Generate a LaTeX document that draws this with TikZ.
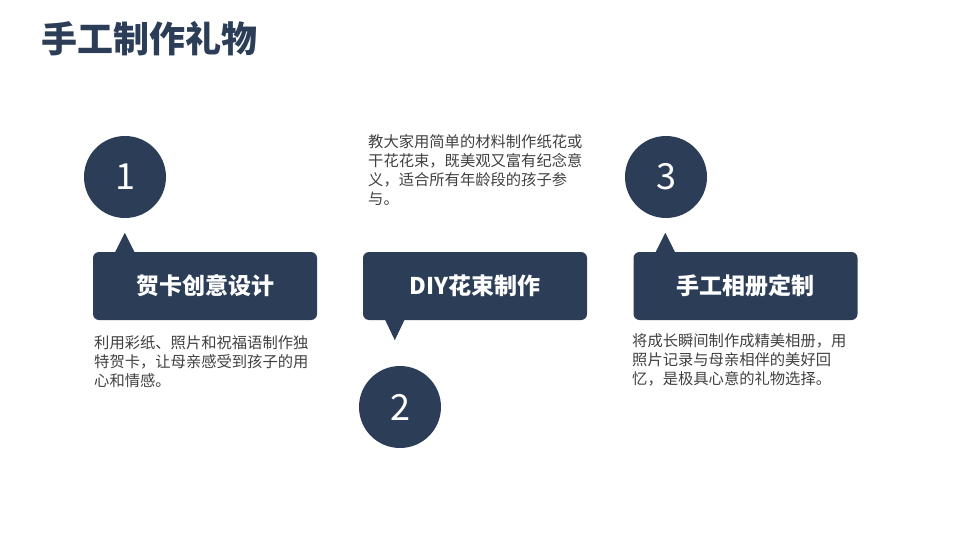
\documentclass[tikz,border=0pt]{standalone}
\usepackage{fontspec}
\setmainfont{Noto Sans CJK SC}
\usetikzlibrary{calc}
\definecolor{navy}{HTML}{2C3E57}
\definecolor{bodygray}{HTML}{404040}

\begin{document}
\begin{tikzpicture}[x=1pt,y=-1pt,
  numdot/.style={circle, fill=navy, minimum size=82pt, inner sep=0pt, text=white, font=\fontsize{36}{36}\selectfont},
  tagbox/.style={rectangle, rounded corners=6pt, fill=navy, minimum width=224pt, minimum height=68pt, inner sep=0pt, text=white, font=\fontsize{23}{23}\selectfont\bfseries},
  blurb/.style={anchor=north west, inner sep=0pt, align=left, text=bodygray, font=\fontsize{15.3}{19}\selectfont}]
\useasboundingbox (0,0) rectangle (960,540);
\node[anchor=west, inner sep=0pt, text=navy, font=\fontsize{36}{36}\selectfont\bfseries] (title) at (41,39) {手工制作礼物};

\node[numdot] (num1) at (125,177) {1};
\node[numdot] (num2) at (400,407) {2};
\node[numdot] (num3) at (666,177) {3};

\node[tagbox] (card1) at (205,286) {贺卡创意设计};
\node[tagbox] (card2) at (475,286) {DIY花束制作};
\node[tagbox] (card3) at (745.5,286) {手工相册定制};

\fill[navy] ($(card1.north west)+(22,1)$) -- ++(10,-20) -- ++(10,20) -- cycle;
\fill[navy] ($(card2.south west)+(22,-1)$) -- ++(10,21) -- ++(10,-21) -- cycle;
\fill[navy] ($(card3.north west)+(22,1)$) -- ++(10,-20) -- ++(10,20) -- cycle;

\node[blurb] (text1) at (94,335) {利用彩纸、照片和祝福语制作独\\特贺卡，让母亲感受到孩子的用\\心和情感。};
\node[blurb] (text2) at (368,134) {教大家用简单的材料制作纸花或\\干花花束，既美观又富有纪念意\\义，适合所有年龄段的孩子参\\与。};
\node[blurb] (text3) at (632,333) {将成长瞬间制作成精美相册，用\\照片记录与母亲相伴的美好回\\忆，是极具心意的礼物选择。};
\end{tikzpicture}
\end{document}
